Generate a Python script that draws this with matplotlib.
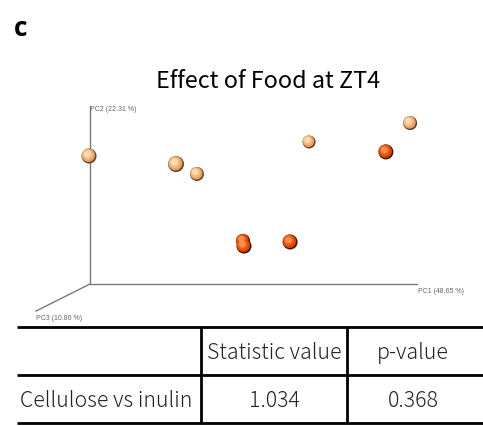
import matplotlib.pyplot as plt
import numpy as np

# projected PCoA scores (screen plane of the 3D view, axis corner = 0, axis ends = 1)
pc1_light = [-0.003, 0.263, 0.327, 0.670, 0.979]
pc2_light = [0.719, 0.674, 0.618, 0.798, 0.904]
size_light = [15, 16, 14, 13, 14]
pc1_dark = [0.905, 0.468, 0.471, 0.612]
pc2_dark = [0.742, 0.242, 0.213, 0.236]
size_dark = [15, 14, 15, 15]

axis_labels = ["PC1 (48.65 %)", "PC2 (22.31 %)", "PC3 (10.86 %)"]
pc3_end = (-0.165, -0.152)

col_labels = ["", "Statistic value", "p-value"]
row_labels = ["Cellulose vs inulin"]
stat_values = ["1.034"]
p_values = ["0.368"]

fig = plt.figure(figsize=(4.83, 4.27), dpi=100)

fig.text(14 / 483, 1 - 28 / 427, "c", fontsize=19, fontweight="bold",
         family="Open Sans", va="center", ha="left")
fig.text(268 / 483, 1 - 81 / 427, "Effect of Food at ZT4", fontsize=16.8,
         family="Noto Sans CJK JP", va="center", ha="center")

ax = fig.add_axes([90 / 483, 1 - 285 / 427, 327 / 483, 178 / 427])
ax.set_xlim(0, 1)
ax.set_ylim(0, 1)
ax.axis("off")

grey = "#7a7a7a"
ax.plot([0, 1], [0, 0], color=grey, lw=1.0, clip_on=False)
ax.plot([0, 0], [0, 1], color=grey, lw=1.0, clip_on=False)
ax.plot([0, pc3_end[0]], [0, pc3_end[1]], color=grey, lw=1.0, clip_on=False)
lab = dict(fontsize=5.0, color="#666666", family="Liberation Sans")
ax.text(1.002, -0.035, axis_labels[0], ha="left", va="center", **lab)
ax.text(0.0, 0.985, axis_labels[1], ha="left", va="center", **lab)
ax.text(pc3_end[0], pc3_end[1] - 0.035, axis_labels[2], ha="left", va="center", **lab)


def spheres(x, y, d, base, mid, light, edge):
    x = np.array(x)
    y = np.array(y)
    s = (np.array(d) * 0.72) ** 2
    # shaded ball: dark rim, body, then a soft highlight to the upper left
    ax.scatter(x, y, s=s, color=edge, lw=0, clip_on=False, zorder=3)
    ax.scatter(x - 0.002, y + 0.004, s=s * 0.80, color=base, lw=0, clip_on=False, zorder=4)
    ax.scatter(x - 0.004, y + 0.008, s=s * 0.50, color=mid, lw=0, clip_on=False, zorder=5)
    ax.scatter(x - 0.005, y + 0.011, s=s * 0.22, color=light, lw=0, clip_on=False, zorder=6)


spheres(pc1_light, pc2_light, size_light, "#e8a060", "#f5b77a", "#fddcb4", "#5c4230")
spheres(pc1_dark, pc2_dark, size_dark, "#d94300", "#ee5a10", "#ff8c4a", "#3a1505")

# table
tab = fig.add_axes([0, 0, 1, 1])
tab.set_xlim(0, 483)
tab.set_ylim(427, 0)
tab.axis("off")
row_y = [328, 376, 424]
col_x = [17, 201, 347, 483]
for yy in row_y:
    tab.plot([col_x[0], col_x[-1]], [yy, yy], color="black", lw=2.0, solid_capstyle="butt")
for xx in col_x[1:-1]:
    tab.plot([xx, xx], [row_y[0], row_y[-1]], color="black", lw=2.0, solid_capstyle="butt")

tf = dict(fontsize=15.3, family="Noto Sans CJK JP", fontweight="light", va="center",
          color="#222222")
mid_x = [(col_x[j] + col_x[j + 1]) / 2 for j in range(3)]
mid_x[2] = 413
for j, txt in enumerate(col_labels):
    if txt:
        tab.text(mid_x[j], (row_y[0] + row_y[1]) / 2 + 1, txt, ha="center", **tf)
for i, name in enumerate(row_labels):
    yc = (row_y[i + 1] + row_y[i + 2]) / 2 + 1
    tab.text(col_x[0] + 3, yc, name, ha="left", **tf)
    tab.text(mid_x[1], yc, stat_values[i], ha="center", **tf)
    tab.text(mid_x[2], yc, p_values[i], ha="center", **tf)

fig.savefig("out.png", dpi=100)
